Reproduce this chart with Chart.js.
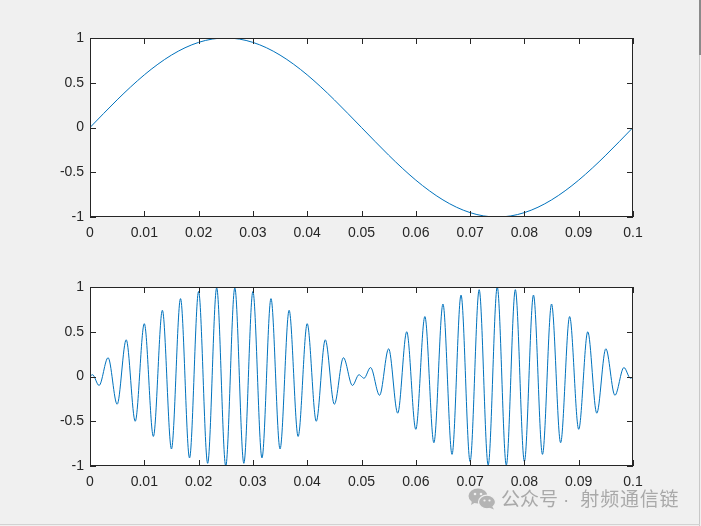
<!DOCTYPE html>
<html>
<head>
<meta charset="utf-8">
<script src="https://cdn.jsdelivr.net/npm/chart.js@4/dist/chart.umd.min.js"></script>
<style>
  html, body { margin: 0; padding: 0; }
  body { width: 701px; height: 526px; background: #f0f0f0; position: relative; overflow: hidden; }
  canvas { position: absolute; left: 0; }
  #c1 { top: 0; }
  #c2 { top: 249px; }
  .frame-r { position: absolute; left: 699px; top: 0; width: 2px; height: 55px; background: #8a8a8a; }
  .frame-r2 { position: absolute; left: 699px; top: 55px; width: 1px; height: 471px; background: #c8c8c8; }
  .frame-b { position: absolute; left: 0; top: 524px; width: 700px; height: 1px; background: #d2d2d2; }
  .wm { position: absolute; left: 501px; top: 487px; font: 19px "Noto Sans CJK SC", sans-serif; line-height: 21px; color: #a9a9a9; white-space: pre; }
  .wm .dot { font-family: "Liberation Sans", Arial, sans-serif; margin: 0 11px 0 5px; }
  .wm .tail { letter-spacing: 0.8px; }
  .wm-icon { position: absolute; left: 468px; top: 487px; }
</style>
</head>
<body>
<canvas id="c1" width="701" height="262"></canvas>
<canvas id="c2" width="701" height="262"></canvas>
<svg class="wm-icon" width="30" height="24" viewBox="0 0 30 24">
  <ellipse cx="10" cy="9" rx="9.5" ry="7.5" fill="#b4b4b4"/>
  <path d="M4 14 L3 18 L8 15 Z" fill="#b4b4b4"/>
  <circle cx="7" cy="7" r="1.3" fill="#f0f0f0"/>
  <circle cx="13" cy="7" r="1.3" fill="#f0f0f0"/>
  <ellipse cx="19" cy="15" rx="8.5" ry="6.8" fill="#b4b4b4" stroke="#f0f0f0" stroke-width="1.2"/>
  <path d="M24 19 L26 22.5 L21 20.5 Z" fill="#b4b4b4"/>
  <circle cx="16.5" cy="13.5" r="1.1" fill="#f0f0f0"/>
  <circle cx="21.5" cy="13.5" r="1.1" fill="#f0f0f0"/>
</svg>
<div class="wm">公众号<span class="dot">·</span><span class="tail">射频通信链</span></div>
<div class="frame-r"></div>
<div class="frame-r2"></div>
<div class="frame-b"></div>
<script>
// top plot: one slow sine period over 0..0.1 s
const topTimes = [0, 0.0025, 0.005, 0.0075, 0.01, 0.0125, 0.015, 0.0175, 0.02, 0.0225,
  0.025, 0.0275, 0.03, 0.0325, 0.035, 0.0375, 0.04, 0.0425, 0.045, 0.0475,
  0.05, 0.0525, 0.055, 0.0575, 0.06, 0.0625, 0.065, 0.0675, 0.07, 0.0725,
  0.075, 0.0775, 0.08, 0.0825, 0.085, 0.0875, 0.09, 0.0925, 0.095, 0.0975, 0.1];
const topValues = [0, 0.156, 0.309, 0.454, 0.588, 0.707, 0.809, 0.891, 0.951, 0.988,
  1, 0.988, 0.951, 0.891, 0.809, 0.707, 0.588, 0.454, 0.309, 0.156,
  0, -0.156, -0.309, -0.454, -0.588, -0.707, -0.809, -0.891, -0.951, -0.988,
  -1, -0.988, -0.951, -0.891, -0.809, -0.707, -0.588, -0.454, -0.309, -0.156, 0];

// bottom plot: peaks / troughs of the modulated carrier
const bottomTimes = [0, 0.00046, 0.00167, 0.00333, 0.005, 0.00667, 0.00833, 0.01, 0.01167, 0.01333,
  0.015, 0.01667, 0.01833, 0.02, 0.02167, 0.02333, 0.025, 0.02667, 0.02833, 0.03,
  0.03167, 0.03333, 0.035, 0.03667, 0.03833, 0.04, 0.04167, 0.04333, 0.045, 0.04667,
  0.04833, 0.04954, 0.05, 0.05046, 0.05167, 0.05333, 0.055, 0.05667, 0.05833, 0.06,
  0.06167, 0.06333, 0.065, 0.06667, 0.06833, 0.07, 0.07167, 0.07333, 0.075, 0.07667,
  0.07833, 0.08, 0.08167, 0.08333, 0.085, 0.08667, 0.08833, 0.09, 0.09167, 0.09333,
  0.095, 0.09667, 0.09833, 0.09954, 0.1];
const bottomValues = [0, 0.02, -0.10, 0.21, -0.31, 0.41, -0.50, 0.59, -0.67, 0.74,
  -0.81, 0.87, -0.91, 0.95, -0.97, 0.99, -1.00, 0.99, -0.97, 0.95,
  -0.91, 0.87, -0.81, 0.74, -0.67, 0.59, -0.50, 0.41, -0.31, 0.21,
  -0.10, 0.02, 0, -0.02, 0.10, -0.21, 0.31, -0.41, 0.50, -0.59,
  0.67, -0.74, 0.81, -0.87, 0.91, -0.95, 0.97, -0.99, 1.00, -0.99,
  0.97, -0.95, 0.91, -0.87, 0.81, -0.74, 0.67, -0.59, 0.50, -0.41,
  0.31, -0.21, 0.10, -0.02, 0];

const xTickValues = [0, 0.01, 0.02, 0.03, 0.04, 0.05, 0.06, 0.07, 0.08, 0.09, 0.1];
const xTickLabels = ['0', '0.01', '0.02', '0.03', '0.04', '0.05', '0.06', '0.07', '0.08', '0.09', '0.1'];
const yTickValues = [-1, -0.5, 0, 0.5, 1];
const yTickLabels = ['-1', '-0.5', '0', '0.5', '1'];

const axisColor = '#262626';
const lineColor = '#0072BD';
const tickFont = { family: '"Liberation Sans", Arial, sans-serif', size: 14 };

// white plot box, box outline and inward ticks like matlab
const matlabAxes = {
  id: 'matlabAxes',
  beforeDraw(chart) {
    const a = chart.chartArea;
    const ctx = chart.ctx;
    ctx.save();
    ctx.fillStyle = '#ffffff';
    ctx.fillRect(a.left, a.top, a.right - a.left, a.bottom - a.top);
    ctx.restore();
  },
  afterDraw(chart) {
    const a = chart.chartArea;
    const ctx = chart.ctx;
    const xs = chart.scales.x;
    const ys = chart.scales.y;
    ctx.save();
    ctx.strokeStyle = axisColor;
    ctx.lineWidth = 1;
    ctx.strokeRect(a.left + 0.5, a.top + 0.5, a.right - a.left - 1, a.bottom - a.top - 1);
    ctx.beginPath();
    xTickValues.forEach((v) => {
      const px = Math.round(xs.getPixelForValue(v)) + 0.5;
      ctx.moveTo(px, a.bottom);
      ctx.lineTo(px, a.bottom - 6);
      ctx.moveTo(px, a.top);
      ctx.lineTo(px, a.top + 6);
    });
    yTickValues.forEach((v) => {
      const py = Math.round(ys.getPixelForValue(v)) + 0.5;
      ctx.moveTo(a.left, py);
      ctx.lineTo(a.left + 6, py);
      ctx.moveTo(a.right, py);
      ctx.lineTo(a.right - 6, py);
    });
    ctx.stroke();
    ctx.restore();
  }
};

const makeChart = (id, times, values) => {
  const ctx = document.getElementById(id).getContext('2d');
  return new Chart(ctx, {
    type: 'line',
    data: {
      datasets: [{
        data: times.map((t, i) => ({ x: t, y: values[i] })),
        borderColor: lineColor,
        borderWidth: 1,
        pointRadius: 0,
        fill: false,
        cubicInterpolationMode: 'monotone',
      }],
    },
    options: {
      responsive: false,
      animation: false,
      layout: { padding: { top: 38, right: 68, left: 0, bottom: 0 } },
      plugins: { legend: { display: false }, tooltip: { enabled: false } },
      scales: {
        x: {
          type: 'linear',
          min: 0,
          max: 0.1,
          grid: { display: false, drawTicks: false },
          border: { display: false },
          afterBuildTicks: (scale) => { scale.ticks = xTickValues.map((v) => ({ value: v })); },
          afterFit: (scale) => { scale.height = 45; },
          ticks: {
            color: axisColor,
            font: tickFont,
            padding: 8,
            maxRotation: 0,
            autoSkip: false,
            callback: (v, i) => xTickLabels[i],
          },
        },
        y: {
          min: -1,
          max: 1,
          grid: { display: false, drawTicks: false },
          border: { display: false },
          afterBuildTicks: (scale) => { scale.ticks = yTickValues.map((v) => ({ value: v })); },
          afterFit: (scale) => { scale.width = 90; },
          ticks: {
            color: axisColor,
            font: tickFont,
            padding: 6,
            autoSkip: false,
            callback: (v, i) => yTickLabels[i],
          },
        },
      },
    },
    plugins: [matlabAxes],
  });
};

makeChart('c1', topTimes, topValues);
makeChart('c2', bottomTimes, bottomValues);
</script>
</body>
</html>
